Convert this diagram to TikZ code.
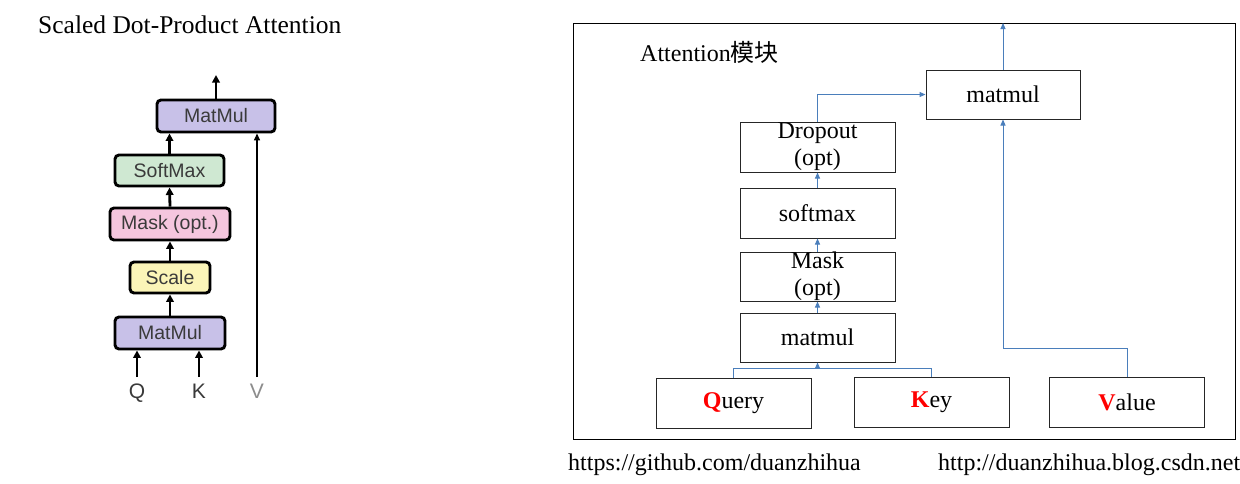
\documentclass[tikz,border=0pt]{standalone}
\usepackage{fontspec}
\setmainfont{Liberation Serif}
\newfontfamily\helv{Liberation Sans}
\newfontfamily\cjk{Noto Sans CJK SC}
\usetikzlibrary{arrows.meta,calc}
\definecolor{lav}{HTML}{C8C1E8}
\definecolor{sgreen}{HTML}{CFE8D2}
\definecolor{spink}{HTML}{F5C6DE}
\definecolor{syellow}{HTML}{FBF5B8}
\definecolor{arrblue}{HTML}{4A7EBB}
\definecolor{ltext}{HTML}{3A3A3A}
\tikzset{
  lbox/.style={draw=black, line width=2.9pt, rounded corners=4pt, inner sep=0pt,
    font=\helv\fontsize{19.5}{22}\selectfont, text=ltext},
  larr/.style={line width=2.8pt, -{Triangle[length=7.5pt,width=7.5pt]}},
  vline/.style={line width=1.4pt, -{Triangle[length=7pt,width=6pt]}},
  lab/.style={font=\helv\fontsize{21}{24}\selectfont, text=ltext, inner sep=0pt},
  rbox/.style={draw=black!85, line width=1pt, fill=white, minimum width=155pt,
    minimum height=50pt, inner sep=0pt, font=\fontsize{24}{27}\selectfont, align=center},
  barr/.style={draw=arrblue, line width=1pt, -{Triangle[length=6pt,width=5pt]}},
  bline/.style={draw=arrblue, line width=1pt},
  txt/.style={inner sep=0pt, anchor=base west}
}
\begin{document}
\begin{tikzpicture}[x=1pt,y=-1pt]
\useasboundingbox[fill=white] (0,0) rectangle (1240,483);

% ---------- left panel ----------
\node[txt, font=\fontsize{25.5}{28}\selectfont] (title) at (38,33) {Scaled Dot-Product Attention};

\node[lbox, fill=lav, minimum width=118pt, minimum height=32pt] (mmt) at (216,116) {MatMul};
\node[lbox, fill=sgreen, minimum width=109pt, minimum height=31pt] (smx) at (169.5,170.5) {SoftMax};
\node[lbox, fill=spink, minimum width=120pt, minimum height=32pt] (msk) at (170,224) {Mask (opt.)};
\node[lbox, fill=syellow, minimum width=80pt, minimum height=31pt] (scl) at (170,277.5) {Scale};
\node[lbox, fill=lav, minimum width=110pt, minimum height=32pt] (mmb) at (170,333) {MatMul};

\node[lab, anchor=base] (ql) at (137,398) {Q};
\node[lab, anchor=base] (kl) at (199,398) {K};
\node[lab, anchor=base, text=black!45] (vl) at (257,398) {V};

\coordinate (qs) at (137,377);
\coordinate (ks) at (199,377);
\coordinate (vs) at (257,377);
\coordinate (o1) at (216,75);

\draw[larr] (qs) -- (qs |- mmb.south);
\draw[larr] (ks) -- (ks |- mmb.south);
\draw[larr] (mmb.north) -- (scl.south);
\draw[larr] (scl.north) -- (msk.south);
\draw[larr] (msk.north) -- (smx.south);
\draw[larr] (smx.north) -- (smx.north |- mmt.south);
\draw[vline] (vs) -- (vs |- mmt.south);
\draw[larr] (mmt.north) -- (o1);

% ---------- right panel ----------
\node[draw=black, line width=1pt, minimum width=662pt, minimum height=416pt, anchor=north west, inner sep=0pt] (frame) at (573,23) {};
\node[txt, font=\fontsize{24}{28}\selectfont] (atl) at (640,61) {Attention{\cjk 模块}};

\node[rbox, minimum width=154pt, minimum height=49pt] (mm2) at (1003,94.5) {matmul};
\node[rbox] (drop) at (817.5,147) {Dropout\\(opt)};
\node[rbox] (soft) at (817.5,213) {softmax};
\node[rbox, minimum height=49pt] (mask) at (817.5,276.5) {Mask\\(opt)};
\node[rbox, minimum height=49pt] (mm1) at (817.5,337.5) {matmul};
\node[rbox] (query) at (733.5,403) {\textcolor{red}{\textbf{Q}}uery};
\node[rbox] (key) at (931.5,402) {\textcolor{red}{\textbf{K}}ey};
\node[rbox] (value) at (1127,402) {\textcolor{red}{\textbf{V}}alue};

\coordinate (jn) at (817.5,368);
\coordinate (vj) at (1127,348);

\draw[bline] (query.north) |- (jn);
\draw[bline] (key.north) |- (jn);
\draw[barr] (jn) -- (mm1.south);
\draw[barr] (mm1.north) -- (mask.south);
\draw[barr] (mask.north) -- (soft.south);
\draw[barr] (soft.north) -- (drop.south);
\draw[barr] (drop.north) |- (mm2.west);
\draw[barr] (value.north) -- (vj) -| (mm2.south);
\draw[barr] (mm2.north) -- (mm2.north |- frame.north);

\node[txt, font=\fontsize{24}{28}\selectfont] (f1) at (568,470) {https://github.com/duanzhihua};
\node[txt, font=\fontsize{24}{28}\selectfont] (f2) at (938,470) {http://duanzhihua.blog.csdn.net};
\end{tikzpicture}
\end{document}
